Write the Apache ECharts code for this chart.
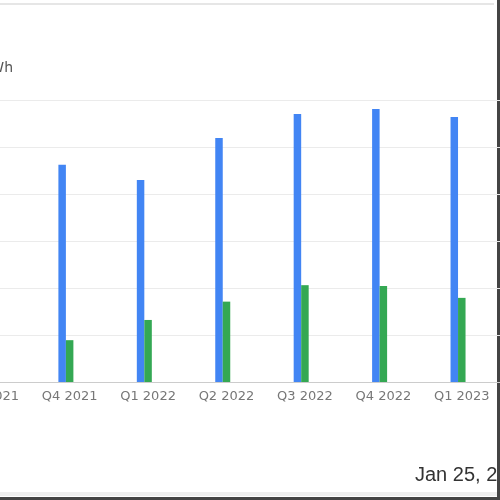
<!DOCTYPE html>
<html>
<head>
<meta charset="utf-8">
<script src="https://cdn.jsdelivr.net/npm/echarts@6/dist/echarts.min.js"></script>
<style>
  html, body { margin: 0; padding: 0; background: #fff; }
  #chart { width: 500px; height: 500px; }
</style>
</head>
<body>
<div id="chart"></div>
<script>
// quarters, first one is cut off at the left edge
const quarters = ['Q3 2021', 'Q4 2021', 'Q1 2022', 'Q2 2022', 'Q3 2022', 'Q4 2022', 'Q1 2023']
// values in axis units (gridline = 1)
const blueValues = [null, 4.62, 4.30, 5.19, 5.70, 5.81, 5.64]
const greenValues = [null, 0.89, 1.32, 1.71, 2.06, 2.04, 1.79]
const thirdValues = [null, null, null, null, null, null, null]
const yTicks = { min: 0, max: 6, interval: 1 }

const chart = echarts.init(document.getElementById('chart'))

const option = {
  animation: false,
  grid: { left: -48, right: -1, top: 100, bottom: 118, outerBoundsMode: 'none', containLabel: false },
  xAxis: {
    type: 'category',
    data: quarters,
    axisTick: { show: false },
    axisLine: { lineStyle: { color: '#cccccc', width: 1 } },
    axisLabel: {
      color: '#777777',
      fontSize: 13,
      fontFamily: 'DejaVu Sans, sans-serif',
      margin: 8,
      interval: 0
    }
  },
  yAxis: {
    type: 'value',
    min: yTicks.min,
    max: yTicks.max,
    interval: yTicks.interval,
    axisLabel: { show: false },
    axisLine: { show: false },
    axisTick: { show: false },
    splitLine: { lineStyle: { color: '#ebebeb', width: 1 } }
  },
  series: [
    {
      name: 'blue',
      type: 'bar',
      data: blueValues,
      barWidth: 7.5,
      barGap: '0%',
      itemStyle: { color: '#4285f4' }
    },
    {
      name: 'green',
      type: 'bar',
      data: greenValues,
      barWidth: 7.5,
      barGap: '0%',
      itemStyle: { color: '#34a853' }
    },
    {
      name: 'third',
      type: 'bar',
      data: thirdValues,
      barWidth: 7.5,
      barGap: '0%',
      itemStyle: { color: '#fbbc04' }
    }
  ],
  graphic: [
    // unit label, mostly cut off
    {
      type: 'text', right: 487, top: 61,
      style: { text: 'MWh', fill: '#555555', font: '14px DejaVu Sans, sans-serif', textAlign: 'right' }
    },
    // date in the lower right
    {
      type: 'text', left: 415, top: 465,
      style: { text: 'Jan 25, 2023', fill: '#333333', font: '20px Liberation Sans, Arial, sans-serif' }
    },
    // frame lines of the crop
    { type: 'rect', shape: { x: 0, y: 3, width: 494, height: 2 }, style: { fill: '#e6e6e6' } },
    { type: 'rect', shape: { x: 0, y: 492, width: 497, height: 4 }, style: { fill: '#eeeeee' } },
    { type: 'rect', shape: { x: 0, y: 497, width: 500, height: 3 }, style: { fill: '#444444' } },
    { type: 'rect', shape: { x: 497, y: 0, width: 3, height: 500 }, style: { fill: '#444444' } }
  ]
}

chart.setOption(option)
</script>
</body>
</html>
